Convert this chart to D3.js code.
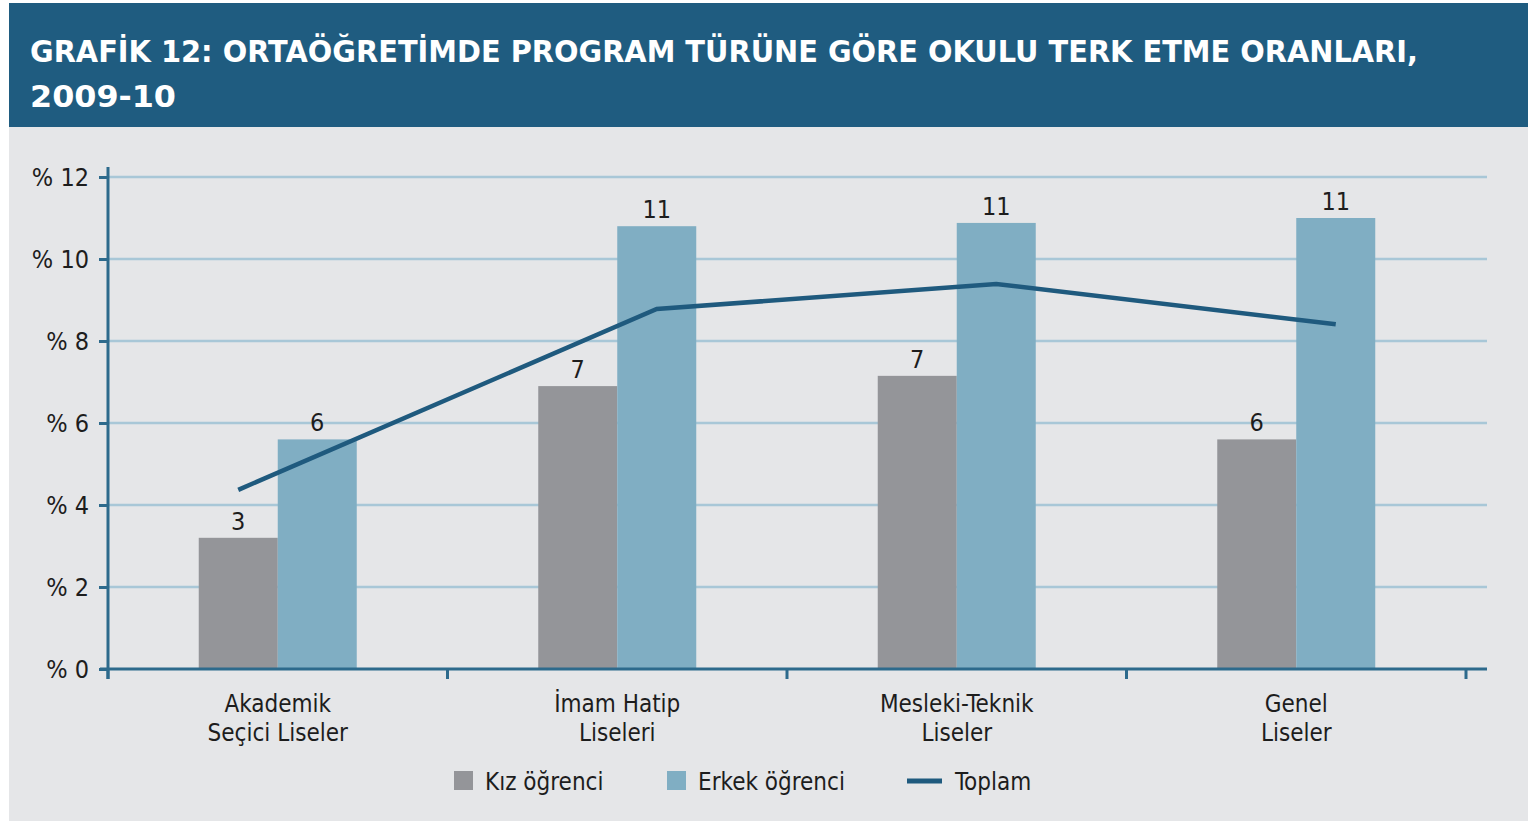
<!DOCTYPE html>
<html lang="tr">
<head>
<meta charset="UTF-8" />
<title>Grafik 12</title>
<script src="https://d3js.org/d3.v7.min.js"></script>
<style>
  html, body { margin: 0; padding: 0; background: #fff; }
  svg { display: block; }
  .tick text { font-family: "DejaVu Sans Condensed", "DejaVu Sans", sans-serif; }
</style>
</head>
<body>
<svg width="1528" height="823"></svg>
<script>
// veriler
const categories = ["Akademik Seçici Liseler", "İmam Hatip Liseleri", "Mesleki-Teknik Liseler", "Genel Liseler"];
const categoryLines = [["Akademik", "Seçici Liseler"], ["İmam Hatip", "Liseleri"], ["Mesleki-Teknik", "Liseler"], ["Genel", "Liseler"]];
const series = ["Kız öğrenci", "Erkek öğrenci"];
const kiz = [3.2, 6.9, 7.15, 5.6];
const erkek = [5.6, 10.8, 10.88, 11.0];
const toplam = [4.37, 8.78, 9.39, 8.41];
const toplamAnchor = ["Kız öğrenci", "Erkek öğrenci", "Erkek öğrenci", "Erkek öğrenci"]; // çizgi noktasının oturduğu sütun
const yTicks = [0, 2, 4, 6, 8, 10, 12];

const colors = { "Kız öğrenci": "#949599", "Erkek öğrenci": "#80aec3" };
const lineColor = "#1f5a7e";

const svg = d3.select("svg");

// arka plan ve başlık bandı
svg.append("rect").attr("x", 9).attr("y", 127).attr("width", 1519).attr("height", 694).attr("fill", "#e5e6e8");
svg.append("rect").attr("x", 9).attr("y", 3).attr("width", 1519).attr("height", 124).attr("fill", "#1f5c80");

const title = svg.append("g")
  .attr("font-family", "'DejaVu Sans', sans-serif")
  .attr("font-weight", "bold")
  .attr("font-size", 30)
  .attr("fill", "#fff");
title.append("text").attr("x", 30).attr("y", 62)
  .attr("textLength", 1388).attr("lengthAdjust", "spacingAndGlyphs")
  .text("GRAFİK 12: ORTAÖĞRETİMDE PROGRAM TÜRÜNE GÖRE OKULU TERK ETME ORANLARI,");
title.append("text").attr("x", 30).attr("y", 107)
  .attr("textLength", 146).attr("lengthAdjust", "spacingAndGlyphs")
  .text("2009-10");

// ölçekler
const x0 = d3.scaleBand().domain(categories).range([108, 1466]).paddingInner(0).paddingOuter(0);
const x1 = d3.scaleBand().domain(series).range([0, 158]);
const groupOffset = (x0.bandwidth() - 158) / 2;
const y = d3.scaleLinear().domain([0, 12]).range([669, 177]);

// ızgara çizgileri
svg.append("g")
  .selectAll("line")
  .data(yTicks.filter(d => d > 0))
  .join("line")
  .attr("x1", 108).attr("x2", 1487)
  .attr("y1", d => y(d)).attr("y2", d => y(d))
  .attr("stroke", "#a8c7d7").attr("stroke-width", 2.5);

// sütunlar
const rows = categories.map((c, i) => ({ cat: c, values: [
  { key: "Kız öğrenci", value: kiz[i] },
  { key: "Erkek öğrenci", value: erkek[i] }
]}));

const groups = svg.append("g").selectAll("g")
  .data(rows).join("g")
  .attr("transform", d => `translate(${x0(d.cat) + groupOffset},0)`);

groups.selectAll("rect")
  .data(d => d.values).join("rect")
  .attr("x", d => x1(d.key))
  .attr("y", d => y(d.value))
  .attr("width", x1.bandwidth())
  .attr("height", d => y(0) - y(d.value))
  .attr("fill", d => colors[d.key]);

groups.selectAll("text")
  .data(d => d.values).join("text")
  .attr("x", d => x1(d.key) + x1.bandwidth() / 2)
  .attr("y", d => y(d.value) - 8)
  .attr("text-anchor", "middle")
  .attr("font-family", "'DejaVu Sans Condensed', 'DejaVu Sans', sans-serif")
  .attr("font-size", 25)
  .attr("fill", "#1d1d1d")
  .text(d => Math.round(d.value));

// toplam çizgisi
const linePts = categories.map((c, i) => [
  x0(c) + groupOffset + x1(toplamAnchor[i]) + x1.bandwidth() / 2,
  y(toplam[i])
]);
svg.append("path")
  .attr("d", d3.line()(linePts))
  .attr("fill", "none")
  .attr("stroke", lineColor)
  .attr("stroke-width", 4.5);

// eksenler
const yAxis = svg.append("g")
  .attr("transform", "translate(108,0)")
  .call(d3.axisLeft(y).tickValues(yTicks).tickSize(9).tickPadding(10).tickFormat(d => "% " + d));
yAxis.select(".domain").attr("d", "M0,167V679").attr("stroke", "#2d6a8c").attr("stroke-width", 3);
yAxis.selectAll(".tick line").attr("stroke", "#2d6a8c").attr("stroke-width", 3);
yAxis.selectAll(".tick text").attr("font-size", 25).attr("fill", "#1d1d1d");

const xAxis = svg.append("g").attr("transform", "translate(0,669)");
xAxis.append("line").attr("x1", 100).attr("x2", 1487).attr("y1", 0).attr("y2", 0)
  .attr("stroke", "#2d6a8c").attr("stroke-width", 3);
xAxis.selectAll(".xt")
  .data(categories.map(c => x0(c)).concat([x0.range()[1]]))
  .join("line")
  .attr("x1", d => d).attr("x2", d => d)
  .attr("y1", 0).attr("y2", 10)
  .attr("stroke", "#2d6a8c").attr("stroke-width", 3);

const xLabels = svg.append("g")
  .attr("font-family", "'DejaVu Sans Condensed', 'DejaVu Sans', sans-serif")
  .attr("font-size", 24)
  .attr("fill", "#1d1d1d")
  .attr("text-anchor", "middle");
categories.forEach((c, i) => {
  const t = xLabels.append("text").attr("x", x0(c) + x0.bandwidth() / 2).attr("y", 712);
  categoryLines[i].forEach((ln, j) => {
    t.append("tspan").attr("x", x0(c) + x0.bandwidth() / 2).attr("dy", j === 0 ? 0 : 29).text(ln);
  });
});

// lejant
const legend = svg.append("g")
  .attr("font-family", "'DejaVu Sans Condensed', 'DejaVu Sans', sans-serif")
  .attr("font-size", 24)
  .attr("fill", "#1d1d1d");
const legendItems = [
  { label: "Kız öğrenci", type: "rect", color: colors["Kız öğrenci"], x: 454 },
  { label: "Erkek öğrenci", type: "rect", color: colors["Erkek öğrenci"], x: 667 },
  { label: "Toplam", type: "line", color: lineColor, x: 907 }
];
legendItems.forEach(it => {
  if (it.type === "rect") {
    legend.append("rect").attr("x", it.x).attr("y", 771).attr("width", 19).attr("height", 19).attr("fill", it.color);
    legend.append("text").attr("x", it.x + 31).attr("y", 790).text(it.label);
  } else {
    legend.append("line").attr("x1", it.x).attr("x2", it.x + 35).attr("y1", 781).attr("y2", 781)
      .attr("stroke", it.color).attr("stroke-width", 5);
    legend.append("text").attr("x", it.x + 48).attr("y", 790).text(it.label);
  }
});
</script>
</body>
</html>
